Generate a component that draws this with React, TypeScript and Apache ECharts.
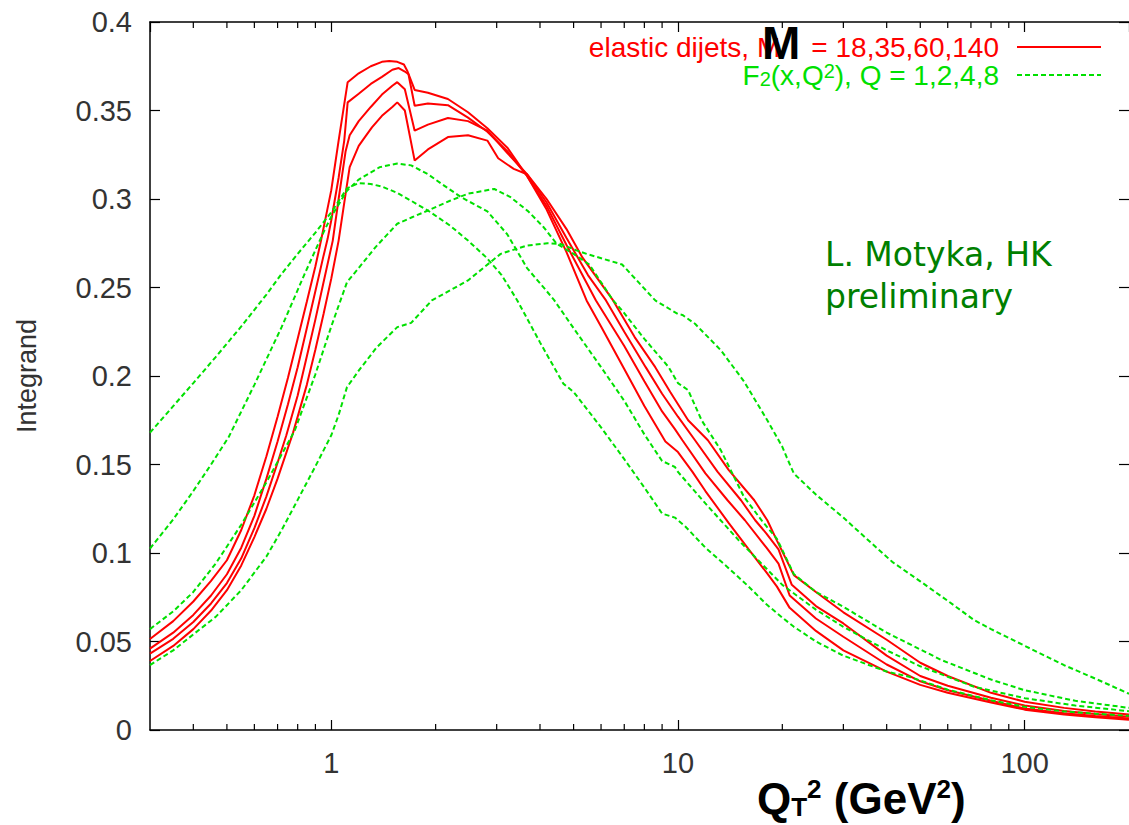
import React, { useEffect, useRef } from 'react';
import * as echarts from 'echarts';

// x axis (Q_T^2, log scale) and y axis (Integrand)
const xMin = 0.3;
const xMax = 200;
const yMin = 0;
const yMax = 0.4;
const yStep = 0.05;
const minorTicksX = [0.4, 0.5, 0.6, 0.7, 0.8, 0.9, 2, 3, 4, 5, 6, 7, 8, 9, 20, 30, 40, 50, 60, 70, 80, 90];

// elastic dijets, M = 18, 35, 60, 140 (red solid)
const dijetM18 = [
  [0.3, 0.0514], [0.35, 0.0615], [0.4, 0.0726], [0.45, 0.0842], [0.5, 0.0959], [0.55, 0.113], [0.6, 0.1326],
  [0.65, 0.1547], [0.7, 0.177], [0.75, 0.199], [0.8, 0.221], [0.85, 0.242], [0.9, 0.262], [0.934, 0.2765],
  [1.0, 0.305], [1.05, 0.333], [1.115, 0.366], [1.2, 0.371], [1.3, 0.375], [1.4, 0.3775], [1.47, 0.378],
  [1.55, 0.3775], [1.62, 0.376], [1.66, 0.372], [1.74, 0.3616], [1.9, 0.36], [2.17, 0.3565], [2.48, 0.349],
  [2.82, 0.34], [3.22, 0.329], [3.67, 0.313], [4.18, 0.294], [4.77, 0.27], [5.45, 0.2427], [6, 0.228],
  [7, 0.204], [8, 0.183], [9.2, 0.163], [10, 0.157], [11, 0.146], [12, 0.135], [14, 0.117], [16, 0.102],
  [18, 0.089], [19.3, 0.081], [21, 0.069], [25, 0.056], [30, 0.045], [40, 0.033], [50, 0.0255], [60, 0.021],
  [80, 0.0155], [100, 0.0115], [130, 0.0088], [160, 0.0072], [200, 0.0058],
];
const dijetM35 = [
  [0.3, 0.046], [0.35, 0.055], [0.4, 0.065], [0.45, 0.076], [0.5, 0.088], [0.55, 0.103], [0.6, 0.121],
  [0.65, 0.142], [0.7, 0.163], [0.75, 0.184], [0.8, 0.205], [0.85, 0.227], [0.9, 0.248], [0.95, 0.268],
  [0.976, 0.2775], [1.0, 0.288], [1.05, 0.312], [1.09, 0.333], [1.115, 0.3546], [1.2, 0.3595], [1.3, 0.365],
  [1.4, 0.369], [1.5, 0.373], [1.565, 0.374], [1.63, 0.372], [1.67, 0.3705], [1.74, 0.3527], [1.9, 0.354],
  [2.17, 0.353], [2.48, 0.346], [2.82, 0.338], [3.22, 0.327], [3.67, 0.313], [4.18, 0.296], [4.77, 0.274],
  [5.8, 0.2427], [7, 0.217], [8, 0.197], [9, 0.18], [9.8, 0.17], [10.3, 0.1637], [12, 0.145], [13.9, 0.1298],
  [15.6, 0.1185], [18, 0.103], [19.5, 0.094], [21, 0.076], [25, 0.063], [30, 0.0527], [40, 0.037],
  [50, 0.0275], [60, 0.0225], [80, 0.0165], [100, 0.0122], [130, 0.0095], [160, 0.0079], [200, 0.0065],
];
const dijetM60 = [
  [0.3, 0.0431], [0.35, 0.0515], [0.4, 0.061], [0.45, 0.0715], [0.5, 0.083], [0.55, 0.097], [0.6, 0.114],
  [0.65, 0.132], [0.7, 0.151], [0.742, 0.1665], [0.8, 0.189], [0.85, 0.211], [0.9, 0.232], [0.95, 0.253],
  [1.01, 0.2765], [1.05, 0.3], [1.1, 0.327], [1.13, 0.336], [1.2, 0.344], [1.3, 0.352], [1.4, 0.359],
  [1.5, 0.364], [1.55, 0.366], [1.63, 0.362], [1.74, 0.3386], [1.9, 0.342], [2.17, 0.3458], [2.48, 0.344],
  [2.82, 0.3386], [3.22, 0.326], [3.67, 0.314], [4.18, 0.298], [4.77, 0.278], [5.5, 0.257], [6.2, 0.2427],
  [7, 0.225], [8.07, 0.205], [9, 0.19], [10, 0.177], [11.2, 0.1637], [13, 0.146], [15.2, 0.1298],
  [16.7, 0.1185], [18, 0.111], [19.5, 0.102], [21.3, 0.082], [25, 0.07], [30, 0.0602], [40, 0.042],
  [50, 0.0305], [60, 0.025], [80, 0.0182], [100, 0.0138], [130, 0.0108], [160, 0.0091], [200, 0.0075],
];
const dijetM140 = [
  [0.3, 0.039], [0.35, 0.0475], [0.4, 0.057], [0.45, 0.0675], [0.5, 0.079], [0.55, 0.093], [0.6, 0.109],
  [0.65, 0.125], [0.7, 0.142], [0.776, 0.168], [0.85, 0.195], [0.9, 0.215], [0.95, 0.235], [1.0, 0.255],
  [1.05, 0.2765], [1.1, 0.303], [1.13, 0.318], [1.2, 0.33], [1.24, 0.334], [1.31, 0.3405], [1.4, 0.347],
  [1.5, 0.352], [1.55, 0.3546], [1.63, 0.35], [1.74, 0.3217], [1.9, 0.328], [2.17, 0.335], [2.48, 0.336],
  [2.82, 0.333], [3.03, 0.323], [3.36, 0.317], [3.67, 0.314], [4.18, 0.3], [4.77, 0.283], [5.3, 0.267],
  [6.5, 0.2427], [7.5, 0.222], [8.6, 0.205], [9.5, 0.191], [10.7, 0.175], [12.2, 0.1637], [14, 0.147],
  [16.6, 0.1298], [18.1, 0.1185], [19.3, 0.107], [21.6, 0.0875], [25, 0.078], [30, 0.0665], [40, 0.051],
  [50, 0.038], [60, 0.0305], [80, 0.021], [100, 0.016], [130, 0.0125], [160, 0.0105], [200, 0.0088],
];

// F2(x,Q^2), Q = 1, 2, 4, 8 (green dashed)
const f2Q1 = [
  [0.3, 0.168], [0.35, 0.183], [0.4, 0.196], [0.464, 0.2107], [0.55, 0.228], [0.65, 0.246], [0.719, 0.2577],
  [0.8, 0.269], [0.9, 0.281], [1.0, 0.2925], [1.11, 0.306], [1.2, 0.309], [1.3, 0.3085], [1.4, 0.307],
  [1.55, 0.3035], [1.7, 0.299], [1.9, 0.2935], [2.2, 0.285], [2.48, 0.2765], [2.8, 0.267], [3.1, 0.257],
  [3.44, 0.2427], [4.0, 0.219], [4.67, 0.1957], [5.0, 0.191], [6, 0.171], [7, 0.153], [8, 0.137],
  [9, 0.1223], [9.8, 0.12], [10.5, 0.115], [12, 0.103], [13.9, 0.092], [16, 0.081], [18, 0.071],
  [20, 0.0635], [21.6, 0.0583], [25, 0.05], [30, 0.042], [40, 0.033], [46.4, 0.0301], [60, 0.0228],
  [80, 0.0168], [100, 0.0131], [130, 0.0105], [160, 0.0092], [200, 0.008],
];
const f2Q2 = [
  [0.3, 0.1025], [0.35, 0.119], [0.4, 0.135], [0.45, 0.15], [0.506, 0.1655], [0.6, 0.195], [0.719, 0.2276],
  [0.838, 0.2577], [0.955, 0.2822], [1.0, 0.29], [1.11, 0.3047], [1.2, 0.311], [1.38, 0.318], [1.55, 0.32],
  [1.7, 0.319], [1.9, 0.314], [2.1, 0.308], [2.37, 0.301], [2.82, 0.293], [3.22, 0.28], [3.67, 0.261],
  [4.18, 0.248], [4.4, 0.2427], [5, 0.227], [6, 0.205], [7, 0.186], [8, 0.167], [9, 0.152], [9.8, 0.1486],
  [10, 0.1458], [12, 0.128], [15, 0.107], [20, 0.082], [25, 0.068], [30, 0.0583], [40, 0.045], [50, 0.036],
  [71.6, 0.0244], [100, 0.018], [140, 0.0138], [200, 0.0106],
];
const f2Q4 = [
  [0.3, 0.057], [0.35, 0.067], [0.4, 0.078], [0.464, 0.094], [0.55, 0.116], [0.65, 0.14], [0.784, 0.169],
  [0.9, 0.201], [1.0, 0.228], [1.11, 0.253], [1.2, 0.261], [1.34, 0.2727], [1.55, 0.286], [1.71, 0.2897],
  [1.9, 0.2935], [2.2, 0.299], [2.48, 0.303], [2.95, 0.3057], [3.29, 0.301], [3.7, 0.293], [4.1, 0.284],
  [4.47, 0.2747], [5.0, 0.269], [5.55, 0.263], [6.5, 0.2427], [6.9, 0.237], [8, 0.221], [9.4, 0.205],
  [10, 0.196], [10.7, 0.192], [11.7, 0.175], [13.3, 0.158], [15.5, 0.1317], [17.5, 0.118], [19.3, 0.108],
  [21.6, 0.088], [25, 0.078], [30, 0.0696], [40, 0.055], [57.6, 0.0395], [80, 0.0285], [100, 0.0225],
  [140, 0.0165], [200, 0.0125],
];
const f2Q8 = [
  [0.3, 0.0367], [0.35, 0.045], [0.4, 0.054], [0.464, 0.0639], [0.55, 0.079], [0.65, 0.098], [0.719, 0.1129],
  [0.8, 0.13], [0.9, 0.149], [1.0, 0.1665], [1.05, 0.178], [1.11, 0.1937], [1.2, 0.203], [1.35, 0.216],
  [1.55, 0.2276], [1.7, 0.23], [1.95, 0.2427], [2.48, 0.254], [3.08, 0.269], [3.67, 0.2737], [4.2, 0.275],
  [4.56, 0.2747], [5.1, 0.271], [5.45, 0.269], [6.9, 0.263], [8.6, 0.2427], [10, 0.235], [10.3, 0.2345],
  [11.2, 0.2295], [13.3, 0.2145], [15.5, 0.197], [18.1, 0.175], [20, 0.16], [20.6, 0.154], [21.6, 0.1449],
  [25, 0.133], [30, 0.12], [37.2, 0.1034], [41.5, 0.095], [50, 0.084], [60, 0.073], [71.6, 0.062],
  [80, 0.057], [100, 0.0476], [130, 0.0366], [160, 0.029], [200, 0.0205],
];

const RED = '#ff0000';
const GREEN = '#00e000';
const SANS = '"Liberation Sans", Arial, Helvetica, sans-serif';

export default function App() {
  const ref = useRef<HTMLDivElement>(null);

  useEffect(() => {
    if (!ref.current) return;
    const chart = echarts.init(ref.current, null, { renderer: 'svg' });

    const redSeries = [dijetM18, dijetM35, dijetM60, dijetM140].map((d) => ({
      type: 'line',
      name: 'dijets',
      data: d,
      symbol: 'none',
      showSymbol: false,
      silent: true,
      xAxisIndex: 0,
      yAxisIndex: 0,
      lineStyle: { color: RED, width: 2 },
      itemStyle: { color: RED },
      z: 3,
    }));
    const greenSeries = [f2Q1, f2Q2, f2Q4, f2Q8].map((d) => ({
      type: 'line',
      name: 'F2',
      data: d,
      symbol: 'none',
      showSymbol: false,
      silent: true,
      xAxisIndex: 0,
      yAxisIndex: 0,
      lineStyle: { color: GREEN, width: 2, type: [5, 3] },
      itemStyle: { color: GREEN },
      z: 4,
    }));

    const minorSeries = {
      type: 'custom',
      name: 'minor',
      xAxisIndex: 0,
      yAxisIndex: 0,
      silent: true,
      clip: false,
      z: 10,
      data: minorTicksX.map((v) => [v, yMin]),
      renderItem: (_params: any, api: any) => {
        const v = api.value(0);
        const b = api.coord([v, yMin]);
        const t = api.coord([v, yMax]);
        return {
          type: 'group',
          children: [
            { type: 'line', shape: { x1: b[0], y1: b[1], x2: b[0], y2: b[1] - 6 }, style: { stroke: '#000', lineWidth: 1.2 } },
            { type: 'line', shape: { x1: t[0], y1: t[1], x2: t[0], y2: t[1] + 6 }, style: { stroke: '#000', lineWidth: 1.2 } },
          ],
        };
      },
    };

    const axisLine = { show: true, onZero: false, lineStyle: { color: '#000', width: 1.5 } };
    const tick = { show: true, inside: true, length: 10, lineStyle: { color: '#000', width: 1.2 } };

    chart.setOption({
      animation: false,
      backgroundColor: '#fff',
      grid: { left: 150, right: -8, top: 22, bottom: 95, containLabel: false },
      xAxis: [
        {
          type: 'log',
          logBase: 10,
          min: xMin,
          max: xMax,
          position: 'bottom',
          axisLine,
          axisTick: tick,
          axisLabel: { margin: 18, fontSize: 29, color: '#333', fontFamily: SANS, showMinLabel: false, showMaxLabel: false },
          splitLine: { show: false },
          minorTick: { show: false },
        },
        {
          type: 'log',
          logBase: 10,
          min: xMin,
          max: xMax,
          position: 'top',
          axisLine,
          axisTick: tick,
          axisLabel: { show: false },
          splitLine: { show: false },
        },
      ],
      yAxis: [
        {
          type: 'value',
          min: yMin,
          max: yMax,
          interval: yStep,
          position: 'left',
          axisLine,
          axisTick: tick,
          axisLabel: { margin: 18, fontSize: 29, color: '#333', fontFamily: SANS },
          splitLine: { show: false },
          name: 'Integrand',
          nameLocation: 'middle',
          nameGap: 110,
          nameTextStyle: { fontSize: 27, color: '#333', fontFamily: SANS },
        },
        {
          type: 'value',
          min: yMin,
          max: yMax,
          interval: yStep,
          position: 'right',
          axisLine: { show: false },
          axisTick: tick,
          axisLabel: { show: false },
          splitLine: { show: false },
        },
      ],
      legend: {
        data: ['dijets', 'F2'],
        orient: 'vertical',
        right: 27,
        top: 33,
        padding: 0,
        itemGap: 0,
        align: 'right',
        itemWidth: 84,
        itemHeight: 14,
        selectedMode: false,
        itemStyle: { opacity: 0 },
        formatter: (name: string) =>
          name === 'dijets'
            ? '{r|elastic dijets, M    = 18,35,60,140}'
            : '{g|F}{gs|2}{g|(x,Q}{gp|2}{g|), Q = 1,2,4,8}',
        textStyle: {
          fontFamily: SANS,
          fontSize: 28,
          lineHeight: 28,
          padding: [0, 13, 0, 0],
          rich: {
            r: { color: RED, fontSize: 28, lineHeight: 28, fontFamily: SANS },
            g: { color: GREEN, fontSize: 28, lineHeight: 28, fontFamily: SANS },
            gs: { color: GREEN, fontSize: 20, lineHeight: 4, verticalAlign: 'bottom', fontFamily: SANS },
            gp: { color: GREEN, fontSize: 20, lineHeight: 10, verticalAlign: 'top', fontFamily: SANS },
          },
        },
      },
      graphic: [
        {
          type: 'text',
          x: 762,
          y: 20,
          z: 100,
          style: { text: 'M', fontSize: 46, fontWeight: 'bold', fontFamily: SANS, fill: '#000', verticalAlign: 'top' },
        },
        {
          type: 'text',
          x: 825,
          y: 233,
          z: 100,
          style: {
            text: 'L. Motyka, HK\npreliminary',
            fontSize: 33,
            lineHeight: 42,
            fontFamily: '"DejaVu Sans", sans-serif',
            fill: '#007f00',
            verticalAlign: 'top',
          },
        },
        {
          type: 'text',
          x: 757,
          y: 776,
          z: 100,
          style: {
            text: '{a|Q}{s|T}{p|2}{a| (GeV}{p|2}{a|)}',
            fill: '#000',
            verticalAlign: 'top',
            rich: {
              a: { fontSize: 44, lineHeight: 44, fontWeight: 'bold', fontFamily: SANS, fill: '#000' },
              s: { fontSize: 26, lineHeight: 16, fontWeight: 'bold', fontFamily: SANS, fill: '#000', verticalAlign: 'bottom' },
              p: { fontSize: 26, lineHeight: 18, fontWeight: 'bold', fontFamily: SANS, fill: '#000', verticalAlign: 'top' },
            },
          },
        },
      ],
      series: [...redSeries, ...greenSeries, minorSeries],
    });

    return () => chart.dispose();
  }, []);

  return (
    <div
      ref={ref}
      style={{ position: 'absolute', left: 0, top: 0, width: 1129, height: 825, background: '#fff' }}
    />
  );
}
